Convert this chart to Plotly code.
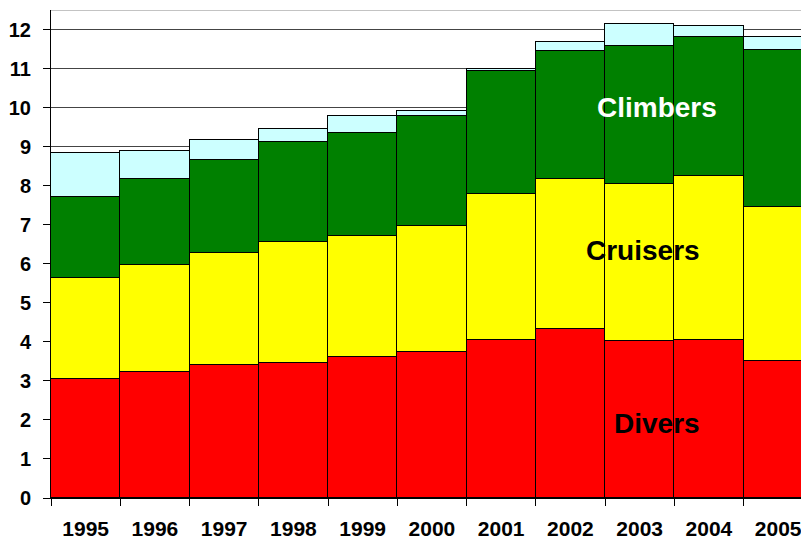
import plotly.graph_objects as go

years = ["1995", "1996", "1997", "1998", "1999", "2000",
         "2001", "2002", "2003", "2004", "2005"]

# segment heights, bottom to top
divers = [3.05, 3.23, 3.41, 3.46, 3.62, 3.74, 4.04, 4.33, 4.02, 4.04, 3.50]
cruisers = [2.59, 2.73, 2.86, 3.09, 3.10, 3.23, 3.74, 3.84, 4.02, 4.20, 3.95]
climbers = [2.06, 2.22, 2.38, 2.58, 2.63, 2.82, 3.17, 3.28, 3.54, 3.57, 4.02]
other = [1.13, 0.72, 0.51, 0.31, 0.44, 0.13, 0.04, 0.24, 0.55, 0.29, 0.34]

series = [
    ("Divers", divers, "#FF0000"),
    ("Cruisers", cruisers, "#FFFF00"),
    ("Climbers", climbers, "#008000"),
    ("Other", other, "#CCFFFF"),
]

FONT = "Arial, Liberation Sans, sans-serif"

fig = go.Figure()
for name, vals, color in series:
    fig.add_trace(go.Bar(
        x=years, y=vals, name=name, width=1,
        marker=dict(color=color, line=dict(color="black", width=1)),
    ))

# labels drawn inside the stack
fig.add_annotation(x=8.25, y=10.0, text="<b>Climbers</b>", showarrow=False,
                   font=dict(family=FONT, size=28, color="white"))
fig.add_annotation(x=8.05, y=6.33, text="<b>Cruisers</b>", showarrow=False,
                   font=dict(family=FONT, size=28, color="black"))
fig.add_annotation(x=8.25, y=1.9, text="<b>Divers</b>", showarrow=False,
                   font=dict(family=FONT, size=28, color="black"))

# thin grey frame line along the top of the plot
fig.add_shape(type="line", xref="paper", yref="y", x0=0, x1=1, y0=12.5, y1=12.5,
              line=dict(color="#888888", width=1))

fig.update_layout(
    width=801, height=539,
    margin=dict(l=51, r=0, t=9.5, b=41, autoexpand=False),
    barmode="stack", bargap=0,
    showlegend=False,
    plot_bgcolor="white", paper_bgcolor="white",
    font=dict(family=FONT, size=20, color="black"),
)
fig.update_xaxes(
    type="category", range=[-0.5, 10.33], automargin=False,
    showline=True, linecolor="black", linewidth=1,
    ticks="outside", tickson="boundaries", ticklen=7, tickcolor="black",
    tickfont=dict(family=FONT, size=21, color="black", weight="bold"),
    ticklabelstandoff=12, showgrid=False,
)
fig.update_yaxes(
    range=[0, 12.5], dtick=1, automargin=False,
    showline=True, linecolor="black", linewidth=1,
    ticks="outside", ticklen=7, tickcolor="black",
    showgrid=True, gridcolor="#444444", gridwidth=1,
    tickfont=dict(family=FONT, size=20, color="black", weight="bold"),
    ticklabelstandoff=8, zeroline=False,
)

# drop the default page margin so the figure fills the window exactly
fig.write_html("out.html", config={"displayModeBar": False},
               post_script="document.body.style.margin='0';"
                           "document.body.style.overflow='hidden';")
